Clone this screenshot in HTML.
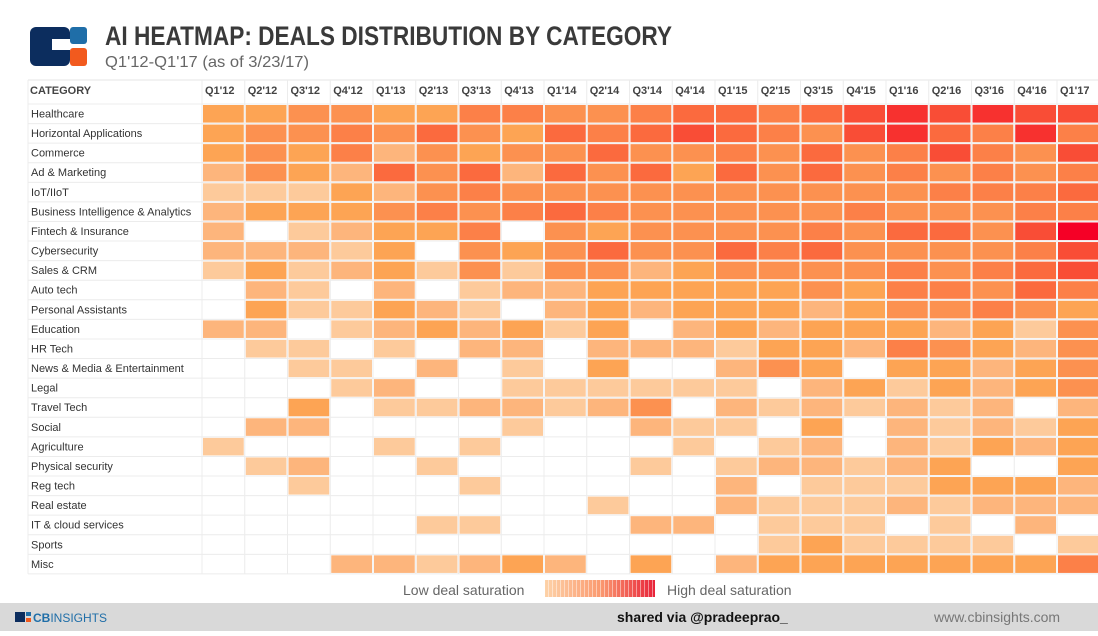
<!DOCTYPE html>
<html><head><meta charset="utf-8"><style>
body{margin:0;width:1098px;height:631px;overflow:hidden;background:#fff;font-family:"Liberation Sans",sans-serif}
</style></head><body>
<svg id="chart" width="1098" height="631" xmlns="http://www.w3.org/2000/svg">
  <g>
    <rect x="30" y="27" width="40" height="39" rx="6" fill="#0c2d5e"/>
    <rect x="52" y="39" width="20" height="11" fill="#fff"/>
    <rect x="70" y="27" width="17" height="17" rx="3" fill="#1f6ea8"/>
    <rect x="70" y="48" width="17" height="18" rx="3" fill="#f25a1e"/>
  </g>
  <text x="105" y="45" font-size="27" font-weight="bold" fill="#3a3a3a" textLength="567" lengthAdjust="spacingAndGlyphs">AI HEATMAP: DEALS DISTRIBUTION BY CATEGORY</text>
  <text x="105" y="67" font-size="16" fill="#666" textLength="204" lengthAdjust="spacingAndGlyphs">Q1'12-Q1'17 (as of 3/23/17)</text>
  <line x1="28" y1="80" x2="1098" y2="80" stroke="#e6e6e6"/>
  <text x="30" y="94" font-size="11" font-weight="bold" fill="#444">CATEGORY</text>
  <g id="grid"></g>
  <g>
    <text x="403" y="595" font-size="14" fill="#666">Low deal saturation</text>
    <defs><linearGradient id="lg" x1="0" x2="1"><stop offset="0" stop-color="#fdd2a8"/><stop offset="0.5" stop-color="#fb9a70"/><stop offset="1" stop-color="#e8233a"/></linearGradient>
    <pattern id="st" width="4" height="20" patternUnits="userSpaceOnUse"><rect x="0" width="1" height="20" fill="rgba(255,255,255,0.45)"/></pattern></defs>
    <rect x="545" y="580" width="110" height="17" fill="url(#lg)"/>
    <rect x="545" y="580" width="110" height="17" fill="url(#st)"/>
    <text x="667" y="595" font-size="14" fill="#666">High deal saturation</text>
  </g>
  <g>
    <rect x="0" y="603" width="1098" height="28" fill="#d9d9d9"/>
    <rect x="15" y="612" width="10" height="10" fill="#0c2d5e"/>
    <rect x="26" y="612" width="5" height="4" fill="#1f6ea8"/>
    <rect x="26" y="618" width="5" height="4" fill="#f25a1e"/>
    <text x="33" y="622" font-size="12" font-weight="bold" fill="#1f6ea8">CB<tspan font-weight="normal">INSIGHTS</tspan></text>
    <text x="617" y="622" font-size="14" font-weight="bold" fill="#111">shared via @pradeeprao_</text>
    <text x="934" y="622" font-size="14" fill="#777">www.cbinsights.com</text>
  </g>
</svg>
<script>
const quarters = ["Q1'12","Q2'12","Q3'12","Q4'12","Q1'13","Q2'13","Q3'13","Q4'13","Q1'14","Q2'14","Q3'14","Q4'14","Q1'15","Q2'15","Q3'15","Q4'15","Q1'16","Q2'16","Q3'16","Q4'16","Q1'17"];
const categories = ["Healthcare","Horizontal Applications","Commerce","Ad & Marketing","IoT/IIoT","Business Intelligence & Analytics","Fintech & Insurance","Cybersecurity","Sales & CRM","Auto tech","Personal Assistants","Education","HR Tech","News & Media & Entertainment","Legal","Travel Tech","Social","Agriculture","Physical security","Reg tech","Real estate","IT & cloud services","Sports","Misc"];
const healthcare = [3,3,4,4,3,3,5,5,4,4,5,6,6,5,6,7,8,7,8,7,7];
const horizontal = [3,4,4,5,4,6,4,3,6,5,6,7,6,5,4,7,8,6,5,8,5];
const commerce = [3,4,3,5,2,4,3,4,4,6,4,4,5,4,6,4,5,7,5,4,7];
const adMarketing = [2,4,3,2,6,4,6,2,6,4,6,3,6,4,6,4,5,4,5,4,5];
const iot = [1,1,1,3,2,4,5,4,4,4,4,4,4,4,4,4,4,5,5,5,6];
const bi = [2,3,3,3,4,5,4,5,6,5,4,4,4,4,4,5,4,4,4,5,5];
const fintech = [2,0,1,2,3,3,5,0,4,3,4,4,4,4,5,4,6,6,4,7,9];
const cyber = [2,2,2,1,3,0,4,3,4,6,4,4,6,5,6,4,4,4,4,5,7];
const sales = [1,3,1,2,3,1,4,1,4,4,2,3,4,4,4,4,5,4,5,6,7];
const auto = [0,2,1,0,2,0,1,2,2,3,3,3,3,3,4,3,5,5,4,6,5];
const personal = [0,3,1,1,3,2,1,0,2,3,2,3,3,3,2,3,4,4,5,4,3];
const education = [2,2,0,1,2,3,2,3,1,3,0,2,3,2,3,3,3,2,3,1,4];
const hrTech = [0,1,1,0,1,0,2,2,0,2,2,2,1,3,3,2,5,4,3,2,4];
const news = [0,0,1,1,0,2,0,1,0,3,0,0,2,4,3,0,3,3,2,3,4];
const legal = [0,0,0,1,2,0,0,1,1,1,1,1,1,0,2,3,1,3,2,3,4];
const travel = [0,0,3,0,1,1,2,2,1,2,4,0,2,1,2,1,2,1,2,0,2];
const social = [0,2,2,0,0,0,0,1,0,0,2,1,1,0,3,0,2,1,2,1,3];
const agriculture = [1,0,0,0,1,0,1,0,0,0,0,1,0,1,2,0,2,1,3,2,3];
const physical = [0,1,2,0,0,1,0,0,0,0,1,0,1,2,2,1,2,3,0,0,3];
const regTech = [0,0,1,0,0,0,1,0,0,0,0,0,2,0,1,1,1,3,3,3,2];
const realEstate = [0,0,0,0,0,0,0,0,0,1,0,0,2,1,1,1,2,1,2,2,2];
const itCloud = [0,0,0,0,0,1,1,0,0,0,2,2,0,1,1,1,0,1,0,2,0];
const sports = [0,0,0,0,0,0,0,0,0,0,0,0,0,1,3,1,1,1,1,0,1];
const misc = [0,0,0,2,2,1,2,3,2,0,3,0,2,3,3,3,3,3,3,3,5];
const values = [healthcare,horizontal,commerce,adMarketing,iot,bi,fintech,cyber,sales,auto,personal,education,hrTech,news,legal,travel,social,agriculture,physical,regTech,realEstate,itCloud,sports,misc];
const palette = ["#ffffff","#fdca9b","#fdb57c","#fda454","#fc9150","#fc8048","#fb6a3e","#f94d36","#f7312f","#f50026"];

const NS="http://www.w3.org/2000/svg";
const g=document.getElementById('grid');
const x0=202, cw=42.75, y0=104, rh=19.58;
const xs=i=>x0+i*cw, ys=j=>y0+j*rh;
function mk(t,a){const e=document.createElementNS(NS,t);for(const k in a)e.setAttribute(k,a[k]);g.appendChild(e);return e;}
for(let i=0;i<=quarters.length;i++){mk('line',{x1:xs(i),x2:xs(i),y1:80,y2:ys(categories.length),stroke:'#ececec'});}
mk('line',{x1:28,x2:28,y1:80,y2:ys(categories.length),stroke:'#ececec'});
for(let j=0;j<=categories.length;j++){mk('line',{x1:28,x2:1098,y1:ys(j),y2:ys(j),stroke:'#ececec'});}
quarters.forEach((q,i)=>{
  const t=mk('text',{x:xs(i)+3,y:94,'font-size':11,'font-weight':'bold',fill:'#444'});
  t.textContent=q;
  
  
});
categories.forEach((c,j)=>{
  const t=mk('text',{x:31,y:ys(j)+13.5,'font-size':11,fill:'#333'});
  t.textContent=c;
  
  
  values[j].forEach((v,i)=>{
    if(!v)return;
    const r=mk('rect',{x:xs(i)+1,y:ys(j)+1,width:cw-2,height:rh-2,fill:palette[v]});
    
    
  });
});
</script>
</body></html>
